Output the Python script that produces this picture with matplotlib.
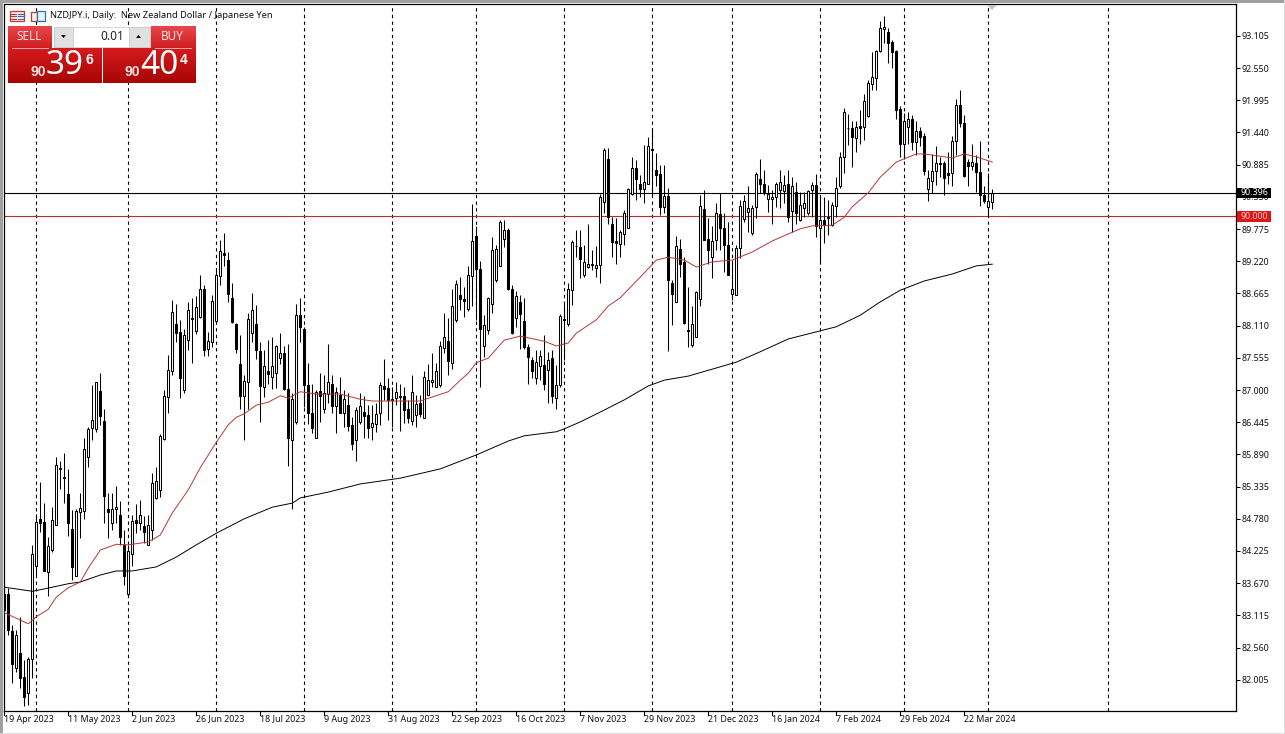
# plot.py - NZDJPY daily candles, MT5 style

import matplotlib
matplotlib.use("Agg")
import matplotlib.pyplot as plt
import numpy as np
from matplotlib.patches import Rectangle, Polygon
from matplotlib.transforms import Affine2D

W, H = 1285, 734

plt.rcParams['font.family'] = ['Noto Sans', 'DejaVu Sans']

# candle values, one per bar, oldest first
highs = [83.60,83.58,82.95,82.86,83.09,82.34,82.40,84.33,84.86,85.42,
85.05,84.47,84.99,85.85,85.77,85.91,85.64,84.93,84.94,85.22,
86.17,86.37,87.09,87.14,87.30,86.68,85.22,85.22,85.34,85.09,
84.59,84.33,84.85,85.03,85.10,84.82,84.84,85.57,85.67,86.24,
87.00,87.60,88.55,88.49,88.21,88.06,88.51,88.58,88.62,88.98,
88.81,88.00,88.64,89.10,89.59,89.70,89.38,88.84,88.15,87.95,
87.26,88.33,88.68,88.47,87.83,87.69,87.87,87.91,87.77,87.98,
87.76,87.79,86.94,88.49,88.58,88.09,87.46,87.11,87.00,87.30,
87.26,87.79,87.26,87.06,87.23,87.00,86.94,86.54,86.71,86.94,
86.90,86.74,86.74,86.77,87.13,87.53,87.20,87.06,87.13,87.11,
87.06,86.83,87.26,86.91,86.91,87.32,87.45,87.63,87.46,87.85,
88.32,88.24,88.74,88.90,88.95,88.78,89.14,90.21,89.82,89.22,
88.29,88.61,89.64,89.50,89.93,89.93,89.79,88.81,88.70,88.64,
88.58,87.79,87.57,87.69,87.69,87.95,87.66,87.69,87.43,88.31,
88.48,88.84,89.59,89.76,89.76,89.50,89.86,89.41,89.48,90.38,
91.18,91.17,89.99,89.96,89.76,90.11,90.48,91.02,90.97,90.71,
91.22,91.36,91.51,91.08,90.88,90.88,90.48,88.90,89.66,89.61,
89.30,88.78,88.45,88.70,90.36,90.44,89.96,89.82,90.22,90.40,
90.05,89.90,89.24,89.50,90.28,90.36,90.51,90.19,90.76,90.98,
90.79,90.53,90.44,90.59,90.79,90.71,90.79,90.68,90.59,90.42,
90.42,90.45,90.59,90.72,90.33,90.33,90.27,90.25,90.68,91.11,
91.86,91.76,91.63,91.64,91.83,92.11,92.34,92.82,92.86,93.37,
93.45,93.24,93.03,92.86,91.89,91.77,91.80,91.74,91.63,91.54,
91.43,90.79,91.07,91.21,91.02,90.94,91.11,91.38,92.01,92.18,
91.74,90.98,91.25,91.05,91.30,90.51,90.75,90.47]

body_tops = [83.49,83.49,82.84,82.78,82.46,82.05,82.36,84.18,84.73,84.77,
84.72,84.31,84.76,85.70,85.65,85.50,85.20,84.60,84.91,84.96,
85.98,86.33,86.48,87.13,86.98,86.47,84.94,84.95,84.99,84.84,
84.32,84.22,84.74,84.75,84.84,84.66,84.67,85.40,85.43,86.21,
86.90,87.34,88.34,88.14,88.00,87.94,88.38,88.25,88.43,88.75,
88.74,87.85,88.53,88.98,89.40,89.37,89.24,88.59,88.14,87.45,
87.15,88.22,88.38,88.14,87.68,87.41,87.32,87.41,87.76,87.63,
87.63,87.01,86.85,88.29,88.29,88.06,87.09,86.61,86.97,86.98,
86.94,87.13,87.11,86.96,86.91,86.85,86.74,86.40,86.66,86.72,
86.62,86.57,86.43,86.59,87.08,87.07,87.03,86.85,86.96,86.89,
86.90,86.67,86.96,86.76,86.77,87.22,87.17,87.18,87.33,87.76,
87.91,87.84,88.44,88.83,88.64,88.57,88.98,89.57,89.65,89.08,
88.12,88.58,89.41,89.43,89.90,89.76,89.76,88.75,88.62,88.52,
88.19,87.74,87.52,87.49,87.59,87.43,87.52,87.55,87.09,88.28,
88.22,88.74,89.55,89.49,89.47,89.20,89.18,89.17,89.15,90.32,
91.13,90.98,89.87,89.57,89.72,90.05,90.47,90.82,90.82,90.56,
90.58,91.21,91.15,90.79,90.72,90.34,90.34,88.84,89.48,89.43,
89.21,88.03,88.14,88.69,90.18,90.12,89.60,89.57,90.06,90.03,
89.80,89.50,88.75,89.44,90.17,90.26,90.13,90.14,90.72,90.64,
90.56,90.38,90.32,90.56,90.58,90.53,90.55,90.52,90.42,90.19,
90.23,90.43,90.53,90.53,89.93,89.93,89.99,90.19,90.49,91.01,
91.79,91.52,91.51,91.54,91.55,91.98,92.29,92.40,92.85,93.24,
93.26,93.17,93.00,92.84,91.84,91.64,91.68,91.68,91.47,91.47,
91.38,90.65,90.78,90.92,90.91,90.91,90.74,91.29,91.91,91.91,
91.60,90.93,90.93,90.91,90.76,90.37,90.26,90.40]

body_bots = [83.21,82.86,82.28,82.20,82.04,81.71,81.77,82.36,83.97,84.71,
83.88,83.87,84.25,84.68,85.63,85.49,84.71,83.95,83.80,84.90,
84.92,85.85,86.35,86.33,86.56,85.18,84.90,84.71,84.95,84.47,
83.80,83.48,84.18,84.70,84.70,84.56,84.32,84.58,85.13,85.27,
86.15,86.88,87.33,87.99,87.20,87.00,87.86,88.23,88.02,88.26,
87.69,87.71,87.83,88.19,88.97,89.32,88.66,88.17,87.71,86.90,
86.90,87.14,87.99,87.69,87.07,87.06,87.28,87.23,87.29,87.56,
87.01,86.18,86.13,86.44,88.09,87.09,86.61,86.34,86.18,86.90,
86.68,86.93,86.73,86.73,86.61,86.61,86.38,86.07,86.13,86.44,
86.56,86.35,86.36,86.41,86.60,87.02,86.83,86.83,86.87,86.88,
86.66,86.52,86.47,86.57,86.59,86.51,86.92,87.14,87.06,87.09,
87.73,87.50,87.47,88.21,88.57,88.54,88.40,88.96,89.09,88.06,
87.76,88.03,88.49,88.90,89.14,89.61,88.74,87.98,88.25,88.31,
87.74,87.57,87.32,87.21,87.42,87.10,87.34,86.90,86.86,87.09,
88.20,88.14,88.72,89.48,89.26,88.98,89.12,89.16,89.11,89.15,
90.25,89.99,89.56,89.54,89.51,89.69,89.79,90.38,90.64,90.47,
90.47,90.56,91.13,90.71,90.16,90.16,88.90,88.66,88.51,89.18,
88.15,88.01,87.77,87.92,88.57,89.59,89.41,89.30,89.59,89.80,
89.50,88.98,88.66,88.64,89.45,89.94,90.07,89.70,90.16,90.55,
90.42,90.30,90.30,90.33,90.45,90.43,89.99,90.09,90.06,89.93,
90.13,90.05,90.44,89.82,89.80,89.85,89.96,89.85,90.18,90.51,
91.01,91.51,91.37,91.35,91.52,91.53,91.72,92.27,92.38,92.85,
93.22,92.99,92.83,91.83,91.25,91.25,91.54,91.28,91.28,91.37,
90.78,90.46,90.61,90.78,90.90,90.65,90.71,90.74,91.29,91.61,
90.69,90.87,90.87,90.76,90.37,90.26,90.16,90.25]

lows = [83.15,82.78,81.95,82.14,81.86,81.56,81.57,82.03,83.78,84.56,
83.88,83.44,84.21,84.68,85.29,85.06,84.48,83.72,83.80,84.45,
84.78,85.68,86.14,86.27,86.40,84.70,84.45,84.59,84.70,84.33,
83.64,83.47,83.97,84.53,84.59,84.36,84.32,84.41,85.12,85.16,
86.14,86.60,87.26,87.83,86.86,86.95,87.69,87.47,87.97,88.24,
87.59,87.59,87.75,88.19,88.81,89.13,88.52,88.15,87.64,86.68,
86.13,86.68,87.82,87.53,86.45,86.88,87.11,87.02,87.03,87.45,
87.00,85.69,84.94,86.42,87.82,86.71,86.42,86.26,86.17,86.45,
86.60,86.77,86.60,86.26,86.60,86.37,86.30,85.97,85.78,86.41,
86.17,86.17,86.14,86.28,86.40,86.83,86.48,86.37,86.74,86.30,
86.43,86.43,86.40,86.37,86.54,86.51,86.91,87.06,87.06,87.05,
87.63,87.26,87.37,88.18,88.38,88.26,88.37,88.44,88.21,87.06,
87.57,87.97,88.33,88.87,89.14,89.47,88.72,87.96,88.09,87.70,
87.70,87.11,87.20,87.11,87.17,87.00,86.78,86.77,86.68,87.06,
87.52,88.10,88.47,89.30,88.93,88.95,89.10,89.07,88.95,88.84,
90.05,89.87,89.29,89.18,89.29,89.50,89.79,90.36,90.28,90.33,
90.22,90.55,90.36,90.51,90.02,90.06,87.68,88.12,88.51,88.95,
88.14,87.75,87.75,87.92,88.45,89.59,89.18,88.93,89.41,89.41,
89.04,88.98,88.55,88.64,89.27,89.90,89.73,89.67,89.96,90.39,
90.36,90.07,89.87,90.16,90.13,90.22,89.90,89.73,89.87,89.92,
89.99,90.02,89.99,89.64,89.21,89.54,89.67,89.83,89.99,90.48,
90.74,91.22,90.85,91.11,91.25,91.31,91.70,92.17,92.17,92.83,
92.98,92.64,92.55,91.67,91.02,90.99,91.25,91.14,91.05,91.20,
90.71,90.26,90.39,90.53,90.68,90.36,90.56,90.51,91.05,91.54,
90.68,90.51,90.79,90.42,90.17,90.22,89.99,90.12]

# U = close above open (white body), D = close below open (black body)
directions = ("DDDUDDUUUD" "DUUUDDDDUU" "UUUUDDDUUD" "DUUDUDUUUU" "UUUDDUUDUU"
              "DUUUUDDDDD" "UUUDDUDUUU" "DDUUDDDDUD" "UUDUDUDDUU" "DDUUUDDDUD"
              "DDUUDUUUUU" "UDUUDDUUDD" "UUUUUUDDUD" "DDDUUDUDUU" "DUUDDUUUUU"
              "UDDDUUUUDD" "UUDDDUDDUD" "DDUUUDDUUD" "DDUUUUUUUD" "DUUUUUDUDU"
              "UUUDUDDUUU" "UDDUDUUUUU" "UDDDDUUDUD" "DUUUDDDUUD" "DDUDDDUU")

# moving averages, read at these bar numbers
ma50_bars = [0,6,8,11,13,16,19,21,24,28,31,36,39,42,46,49,53,56,58,60,63,66,69,71,74,78,84,89,92,
             104,107,111,114,116,118,121,125,129,135,138,141,143,148,151,154,160,163,166,170,173,
             177,182,187,192,199,202,207,210,212,216,219,223,228,230,237,240,243,247]
ma50 = [83.16,82.97,83.09,83.22,83.43,83.59,83.69,83.93,84.24,84.34,84.33,84.38,84.50,84.88,85.28,85.66,
        86.10,86.40,86.53,86.59,86.74,86.79,86.90,86.86,86.97,86.93,86.93,86.84,86.81,
        86.81,86.88,86.97,87.17,87.29,87.47,87.55,87.86,87.93,87.84,87.76,87.81,87.98,88.21,88.45,88.59,
        89.02,89.24,89.29,89.24,89.12,89.21,89.24,89.38,89.57,89.78,89.83,89.84,89.98,90.16,90.40,90.67,
        90.93,91.07,91.07,91.00,91.07,91.02,90.93]
ma200_bars = [0,7,10,16,19,24,28,32,38,43,48,53,60,67,72,74,81,89,99,109,118,126,130,138,140,144,149,155,
              161,165,171,176,183,189,196,204,208,214,219,224,230,237,243,247]
ma200 = [83.60,83.53,83.57,83.66,83.69,83.81,83.88,83.88,83.95,84.12,84.33,84.53,84.78,84.98,85.05,85.14,
         85.24,85.38,85.48,85.64,85.88,86.12,86.21,86.28,86.33,86.45,86.62,86.83,87.07,87.17,87.24,87.34,
         87.48,87.66,87.88,88.02,88.09,88.29,88.52,88.72,88.88,89.00,89.14,89.17]

# axis labels
price_ticks = [93.105,92.550,91.995,91.440,90.885,90.330,89.775,89.220,88.665,88.110,87.555,87.000,
               86.445,85.890,85.335,84.780,84.225,83.670,83.115,82.560,82.005]
date_labels = ["19 Apr 2023","11 May 2023","2 Jun 2023","26 Jun 2023","18 Jul 2023","9 Aug 2023",
               "31 Aug 2023","22 Sep 2023","16 Oct 2023","7 Nov 2023","29 Nov 2023","21 Dec 2023",
               "16 Jan 2024","7 Feb 2024","29 Feb 2024","22 Mar 2024"]
month_starts = [8,31,53,75,97,118,140,162,182,204,225,246,276]
bid_price = 90.396
level_price = 90.000

fig = plt.figure(figsize=(W/100, H/100), dpi=100, facecolor='white')

# pixel transform for the terminal furniture, origin top left
px = Affine2D().scale(1/W, -1/H).translate(0, 1) + fig.transFigure

left, right, top, bottom = 4, 1236, 4, 711
ax = fig.add_axes([left/W, 1-bottom/H, (right-left)/W, (bottom-top)/H])
ax.set_xlim((left-4.3)/4, (right-4.3)/4)
ax.set_ylim(90-(bottom-216)/58, 90+(216-top)/58)
ax.set_facecolor('white')
for s in ax.spines.values():
    s.set_linewidth(0.9)
    s.set_color('black')

bars = np.arange(len(highs))
up = np.array([d == 'U' for d in directions])
tops = np.array(body_tops)
bots = np.array(body_bots)

for m in month_starts:
    ax.axvline(m, color='black', lw=0.8, dashes=(3, 3), zorder=1)

ax.axhline(bid_price, color='black', lw=0.8, zorder=2)
ax.axhline(level_price, color='#b5302c', lw=0.8, zorder=2)

ax.vlines(bars, lows, highs, color='black', lw=0.75, zorder=3)
ax.bar(bars, tops-bots, bottom=bots, width=0.55, color=np.where(up, 'white', 'black'),
       edgecolor='black', linewidth=0.75, zorder=4)

ax.plot(ma200_bars, ma200, color='black', lw=0.7, zorder=5)
ax.plot(ma50_bars, ma50, color='#b03a36', lw=0.7, zorder=5)

# right price scale
ax.yaxis.tick_right()
ax.set_yticks(price_ticks)
ax.set_yticklabels([f"{p:.3f}" for p in price_ticks], fontsize=6.4, color='#111111')
ax.tick_params(axis='y', length=3.2, width=0.75, pad=1)

# bottom date scale, every 16 bars, labels sit just right of the tick
ax.set_xticks([])
for k, lab in enumerate(date_labels):
    x0 = 4.3 + k*64
    fig.add_artist(plt.Line2D([x0, x0], [711, 715], color='black', lw=0.8, transform=px))
    fig.text(x0, 719, lab, transform=px, fontsize=6.4, ha='left', va='center', color='#111111')

# price boxes on the scale
def price_box(y0, y1, color, label, tcolor):
    fig.add_artist(Rectangle((1237, y0), 34, y1-y0, transform=px, fc=color, ec='none', zorder=6))
    fig.text(1254, (y0+y1)/2-0.3, label, transform=px, fontsize=6.4, ha='center', va='center', color=tcolor, zorder=7)

price_box(188, 198, 'black', f"{bid_price:.3f}", 'white')
price_box(211, 222, '#e01414', f"{level_price:.3f}", '#f5d0d0')

# window border
fig.add_artist(Rectangle((0, 0), W, 2.5, transform=px, fc='#a0a0a0', ec='none'))
fig.add_artist(Rectangle((0, 0), 2.5, H, transform=px, fc='#a0a0a0', ec='none'))
fig.add_artist(Rectangle((0, 732.5), W, 2, transform=px, fc='#dcdcdc', ec='none'))
fig.add_artist(Rectangle((1284, 0), 1, H, transform=px, fc='#dcdcdc', ec='none'))
fig.add_artist(Polygon([(987, 5), (997, 5), (992, 10)], transform=px, fc='#c4c4c4', ec='none'))

# title and icons
fig.text(50, 15.5, "NZDJPY.i, Daily:  New Zealand Dollar / Japanese Yen", transform=px,
         fontsize=6.7, ha='left', va='center', color='#111111')
fig.add_artist(Rectangle((9.5, 11), 14.5, 10, transform=px, fc='#fbeeee', ec='#c0392b', lw=0.9))
for yy in (13.5, 16, 18.5):
    fig.add_artist(plt.Line2D([11, 16], [yy, yy], color='#c0392b', lw=0.8, transform=px))
    fig.add_artist(plt.Line2D([17.5, 22.5], [yy, yy], color='#2b6fb5', lw=0.8, transform=px))
fig.add_artist(Rectangle((30.5, 11.5), 6.5, 9.5, transform=px, fc='#fbeeee', ec='#c0392b', lw=0.9))
fig.add_artist(Rectangle((37, 10.5), 7.5, 10.5, transform=px, fc='#eaf3fb', ec='#2b6fb5', lw=0.9))

# one click trading panel
def red_box(x0, y0, x1, y1, c_top, c_bot):
    a = fig.add_axes([x0/W, 1-y1/H, (x1-x0)/W, (y1-y0)/H])
    a.axis('off')
    c0 = np.array(matplotlib.colors.to_rgb(c_top))
    c1 = np.array(matplotlib.colors.to_rgb(c_bot))
    t = np.linspace(0, 1, 32)[:, None, None]
    a.imshow(c0*(1-t)+c1*t, aspect='auto', extent=(0, 1, 0, 1), zorder=1)

red_box(8, 26, 52, 48, '#e8474a', '#d01f22')
red_box(151, 26, 195, 48, '#e8474a', '#d01f22')
red_box(8, 48, 101, 83, '#d41a1c', '#a80606')
red_box(103, 48, 195, 83, '#d41a1c', '#a80606')

fig.add_artist(plt.Line2D([12, 48], [47.5, 47.5], color='#f2a5a5', lw=0.7, transform=px, zorder=10))
fig.add_artist(plt.Line2D([155, 191], [47.5, 47.5], color='#f2a5a5', lw=0.7, transform=px, zorder=10))
fig.add_artist(Rectangle((54, 27), 96, 20, transform=px, fc='white', ec='#cfcfcf', lw=0.6, zorder=10))
fig.add_artist(Rectangle((54, 27), 19, 20, transform=px, fc='#e0e0e0', ec='#c8c8c8', lw=0.6, zorder=10))
fig.add_artist(Rectangle((129, 27), 21, 20, transform=px, fc='#e0e0e0', ec='#c8c8c8', lw=0.6, zorder=10))
fig.add_artist(Polygon([(61, 35), (66, 35), (63.5, 38)], transform=px, fc='black', ec='none', zorder=11))
fig.add_artist(Polygon([(136, 38), (141, 38), (138.5, 35)], transform=px, fc='black', ec='none', zorder=11))

fig.text(124, 36.5, "0.01", transform=px, fontsize=8.5, ha='right', va='center', color='#222222', zorder=11)
fig.text(29, 37, "SELL", transform=px, fontsize=8.5, ha='center', va='center', color='#fbe3e3', zorder=11)
fig.text(172, 37, "BUY", transform=px, fontsize=8.5, ha='center', va='center', color='#fbe3e3', zorder=11)

bold = dict(family=['Liberation Sans'], fontweight='bold', ha='center', va='center', zorder=11, transform=px)
fig.text(38, 72.5, "90", fontsize=10, color='#fbe3e3', **bold)
fig.text(65, 66, "39", transform=px, fontsize=24, ha='center', va='center', color='white', zorder=11)
fig.text(89, 60, "6", fontsize=10, color='white', **bold)
fig.text(132, 72.5, "90", fontsize=10, color='#fbe3e3', **bold)
fig.text(159, 66, "40", transform=px, fontsize=24, ha='center', va='center', color='white', zorder=11)
fig.text(184, 60, "4", fontsize=10, color='white', **bold)

fig.savefig("out.png", dpi=100)
